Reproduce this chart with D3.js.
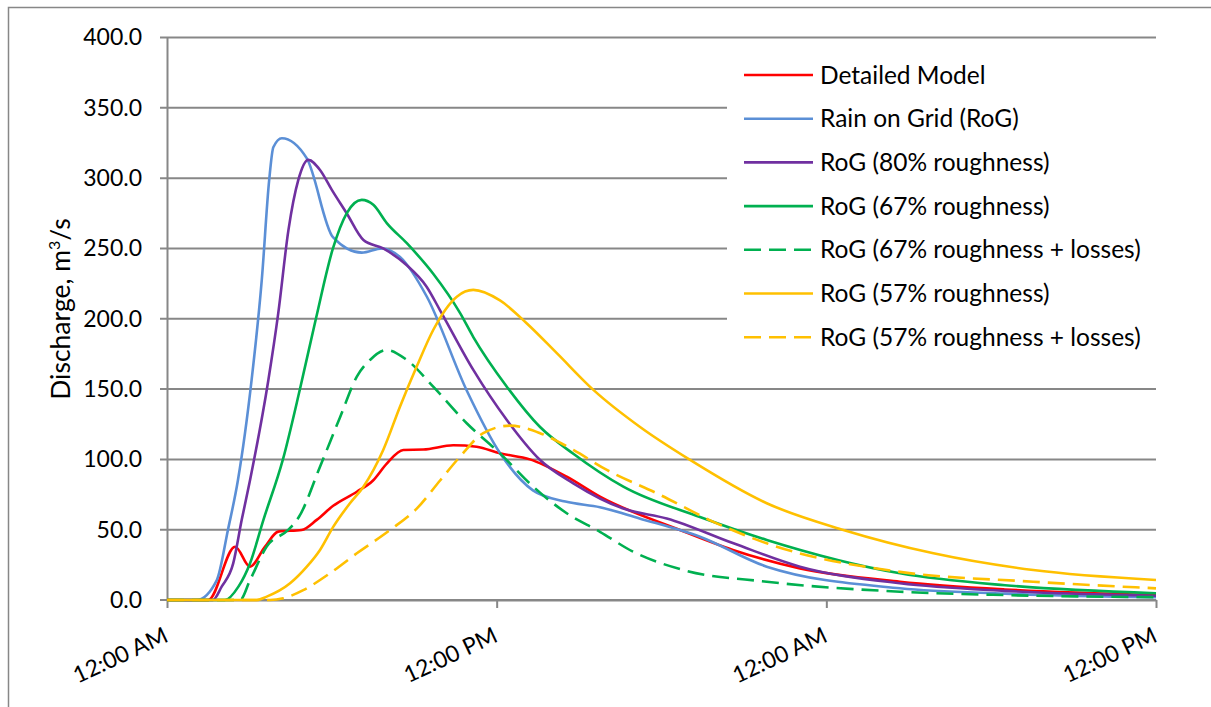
<!DOCTYPE html>
<meta charset="utf-8">
<style>
body { margin: 0; background: #fff; }
svg { font-family: Lato, "Noto Sans", sans-serif; }
.series { fill: none; stroke-width: 2.6px; stroke-linejoin: round; stroke-linecap: butt; }
</style>
<svg width="1211" height="707"></svg>
<script src="https://cdnjs.cloudflare.com/ajax/libs/d3/7.8.5/d3.min.js"></script>
<script>

// time in hours since 12:00 AM, discharge in m3/s
var detailedT = [0, 1.50, 2.48, 3.02, 3.57, 4.05, 4.90, 5.45, 6.05, 6.91, 7.50, 8.00, 8.60, 9.33, 10.42, 11.27, 12.12, 13.21, 14.55, 15.76, 18.67, 20.60, 23.04, 26.68, 30.5, 36];
var detailedQ = [0, 0, 37.9, 23.7, 38, 48.6, 49.8, 57, 67, 77, 85, 97, 106.7, 107, 110, 109, 104.3, 100, 87.7, 73.5, 49.8, 35.6, 22.5, 13, 7.5, 3.5];

var rogT = [0, 1.08, 1.81, 2.22, 2.58, 3.08, 3.45, 3.72, 3.87, 4.18, 5.09, 6.04, 7.09, 7.82, 8.48, 9.45, 10.91, 12.12, 13.32, 14.5, 15.76, 17.2, 19.4, 21.83, 26.68, 30.5, 36];
var rogQ = [0, 0, 14, 50, 85, 156.5, 227.6, 298.7, 322, 328.4, 314, 258, 247, 250, 244, 216, 149, 104.5, 78, 70, 66, 58, 45, 23.7, 8.3, 4.5, 2];

var rog80T = [0, 1.67, 1.99, 2.41, 2.72, 3.02, 3.69, 4.05, 4.42, 4.78, 5.14, 5.57, 6.00, 6.54, 7.15, 7.87, 8.73, 9.45, 9.94, 11.15, 12.37, 13.58, 14.79, 16.61, 18.19, 20.62, 23.04, 26.68, 30.5, 36];
var rog80Q = [0, 0, 9.5, 26, 57, 85, 156.5, 204, 263, 298.7, 313, 305.8, 291.6, 275, 256, 250, 238, 222.8, 206, 163.6, 128, 99.6, 83, 65, 58, 40.3, 23.7, 11.9, 6.5, 3];

var rog67T = [0, 2.11, 2.60, 3.02, 3.51, 4.22, 4.84, 5.42, 6.04, 6.54, 7.09, 7.51, 8.00, 8.73, 9.69, 10.67, 11.15, 12.37, 13.58, 14.79, 16.61, 19.40, 21.83, 26.68, 30.5, 36];
var rog67Q = [0, 0, 9.5, 26, 57, 100, 150, 200, 250, 275, 284.5, 281, 268, 253.7, 232, 204, 187, 151.7, 123, 104, 80.6, 59, 42.7, 19, 10.5, 4.8];

var rog67lossT = [0, 2.66, 3.02, 3.63, 4.42, 4.80, 5.57, 6.30, 6.91, 7.39, 8.00, 8.73, 9.69, 10.91, 12.12, 13.33, 14.55, 15.76, 16.96, 18.80, 21.83, 26.68, 30.5, 36];
var rog67lossQ = [0, 0, 14, 38, 50, 59, 94.8, 130, 158.8, 170.7, 177.8, 170.7, 151.7, 125.7, 104.3, 80.6, 61.7, 48.5, 34.4, 21.3, 13, 5.9, 3.5, 2];

var rog57T = [0, 3.27, 3.63, 4.48, 5.09, 5.57, 6.05, 6.66, 7.15, 7.87, 8.48, 9.09, 9.69, 10.55, 11.15, 12.12, 13.09, 14.19, 15.52, 17.22, 19.04, 21.83, 24.62, 27.90, 31.53, 36];
var rog57Q = [0, 0, 2.4, 11.9, 23.7, 35.6, 52, 68.8, 80.6, 106.7, 137.5, 166, 192, 215.7, 220.5, 213, 196.8, 175.5, 149.4, 123, 99.6, 68.8, 49.8, 33.2, 21.3, 14.2];

var rog57lossT = [0, 3.75, 4.23, 4.96, 5.93, 6.91, 8.12, 9.09, 9.94, 10.67, 11.51, 12.49, 13.58, 14.79, 16.01, 17.83, 20.01, 21.83, 26.68, 31.53, 36];
var rog57lossQ = [0, 0, 1.2, 7, 19, 33.2, 49.8, 65, 85, 102, 118.6, 124, 118.6, 106.7, 92.5, 75.9, 54.5, 40.3, 20, 13, 8.3];

var seriesNames = ["Detailed Model", "Rain on Grid (RoG)", "RoG (80% roughness)", "RoG (67% roughness)",
                   "RoG (67% roughness + losses)", "RoG (57% roughness)", "RoG (57% roughness + losses)"];
var seriesColors = ["#ff0000", "#5b8fd6", "#7030a0", "#00b050", "#00b050", "#ffc000", "#ffc000"];
var seriesDashed = [false, false, false, false, true, false, true];

var yTicks = [0, 50, 100, 150, 200, 250, 300, 350, 400];
var xTicks = [0, 12, 24, 36];
var xTickLabels = ["12:00 AM", "12:00 PM", "12:00 AM", "12:00 PM"];

var seriesT = [detailedT, rogT, rog80T, rog67T, rog67lossT, rog57T, rog57lossT];
var seriesQ = [detailedQ, rogQ, rog80Q, rog67Q, rog67lossQ, rog57Q, rog57lossQ];

var svg = d3.select("svg");
var grid = "#878787";

// chart border
svg.append("rect")
    .attr("x", 8.5).attr("y", 7.5)
    .attr("width", 1230).attr("height", 730)
    .attr("fill", "#fff").attr("stroke", grid).attr("stroke-width", 1.5);

var x = d3.scaleLinear().domain([0, 36]).range([167, 1156]);
var y = d3.scaleLinear().domain([0, 400]).range([600, 37.5]);

// horizontal gridlines
svg.append("g").selectAll("line")
  .data(yTicks)
  .join("line")
    .attr("x1", x(0) - 7).attr("x2", x(36))
    .attr("y1", d => y(d)).attr("y2", d => y(d))
    .attr("stroke", grid).attr("stroke-width", 2);

// y axis
var yAxis = svg.append("g")
    .attr("transform", "translate(" + x(0) + ",0)")
    .call(d3.axisLeft(y).tickValues(yTicks).tickSize(0).tickPadding(25)
          .tickFormat(d3.format(".1f")));
yAxis.select(".domain").attr("stroke", grid).attr("stroke-width", 2);
yAxis.selectAll("text").attr("font-size", 23).attr("fill", "#000").attr("font-family", "Lato");

// x axis
var xAxis = svg.append("g")
    .attr("transform", "translate(0," + y(0) + ")")
    .call(d3.axisBottom(x).tickValues(xTicks).tickSizeInner(8).tickSizeOuter(0)
          .tickFormat((d, i) => xTickLabels[i]));
xAxis.select(".domain").attr("stroke", grid).attr("stroke-width", 2);
xAxis.selectAll("line").attr("stroke", grid).attr("stroke-width", 2);
xAxis.selectAll("text")
    .attr("font-size", 23).attr("fill", "#000").attr("font-family", "Lato")
    .attr("text-anchor", "end")
    .attr("dy", 0).attr("y", 0)
    .attr("transform", "translate(2,41) rotate(-25)");

// axis title
var title = svg.append("text")
    .attr("transform", "translate(70,309) rotate(-90)")
    .attr("text-anchor", "middle")
    .attr("font-size", 26.5)
    .text("Discharge, m");
title.append("tspan").attr("font-size", 16).attr("dy", -10).text("3");
title.append("tspan").attr("dy", 10).text("/s");

// series
var line = d3.line()
    .x(d => x(d[0]))
    .y(d => y(d[1]))
    .curve(d3.curveMonotoneX);

seriesNames.forEach(function(name, i) {
  var pts = seriesT[i].map((t, j) => [t, seriesQ[i][j]]);
  svg.append("path")
      .datum(pts)
      .attr("class", "series")
      .attr("stroke", seriesColors[i])
      .attr("stroke-dasharray", seriesDashed[i] ? "17,8" : null)
      .attr("d", line);
});

// legend
var legend = svg.append("g");
legend.append("rect")
    .attr("x", 727).attr("y", 52)
    .attr("width", 432).attr("height", 306)
    .attr("fill", "#fff");

var rows = legend.selectAll("g.row")
  .data(seriesNames)
  .join("g")
    .attr("class", "row")
    .attr("transform", (d, i) => "translate(744," + (75 + i * 43.7) + ")");
rows.append("line")
    .attr("x1", 0).attr("x2", 69)
    .attr("stroke", (d, i) => seriesColors[i])
    .attr("stroke-width", 2.6)
    .attr("stroke-dasharray", (d, i) => seriesDashed[i] ? "17,8" : null);
rows.append("text")
    .attr("x", 76).attr("dy", "0.35em")
    .attr("font-size", 24.5)
    .text(d => d);

</script>
